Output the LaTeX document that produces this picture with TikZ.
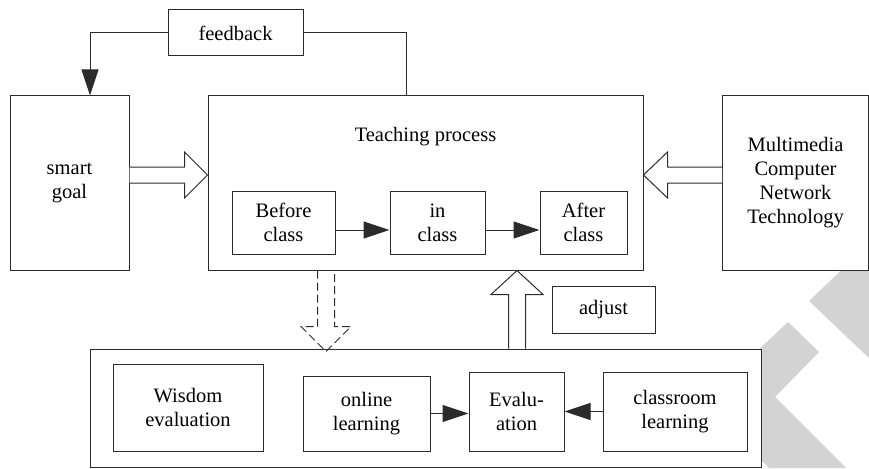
\documentclass[tikz,border=0pt]{standalone}
\usepackage{fontspec}
\setmainfont{Liberation Serif}
\usetikzlibrary{arrows.meta,calc}
\definecolor{ink}{HTML}{2B2B2B}
\definecolor{wmark}{HTML}{D3D3D3}
\begin{document}
\begin{tikzpicture}[x=1pt,y=-1pt,
  box/.style={draw=ink, line width=1pt, fill=white, inner sep=0pt, align=center,
              font=\fontsize{20.5}{24}\selectfont},
  txt/.style={inner sep=0pt, align=center, font=\fontsize{20.5}{24}\selectfont},
  flow/.style={draw=ink, line width=1pt, -{Triangle[length=26pt,width=17pt]}},
  link/.style={draw=ink, line width=1pt},
  hollow/.style={draw=ink, line width=1pt, fill=white, line join=miter},
  dhollow/.style={draw=ink, line width=1pt, dash pattern=on 8pt off 4pt, line join=miter},
]
\useasboundingbox (0,0) rectangle (869,468);
% watermark
\fill[wmark] (788,322) -- (819,352) -- (775,397) -- (846,468) -- (769,468) -- (703,402) -- cycle;
\fill[wmark] (852,260) -- (869,260) -- (869,358) -- (809,301) -- cycle;

% main boxes
\node[box, minimum width=135pt, minimum height=46pt] (fb) at (235.5,33) {feedback};
\node[box, minimum width=119pt, minimum height=174pt] (goal) at (69.5,183) {smart\\goal};
\node[box, minimum width=435pt, minimum height=174pt] (teach) at (425.5,183) {};
\node[txt] (title) at (425.5,137) {Teaching process};
\node[box, minimum width=146pt, minimum height=174pt] (mm) at (795.5,183) {Multimedia\\Computer\\Network\\Technology};

\node[box, minimum width=103pt, minimum height=63pt] (before) at (283.5,222.5) {Before\\class};
\node[box, minimum width=95pt, minimum height=63pt] (inclass) at (437.5,222.5) {in\\class};
\node[box, minimum width=87pt, minimum height=63pt] (after) at (583.5,222.5) {After\\class};

\node[box, minimum width=103pt, minimum height=47pt] (adjust) at (603.5,309.5) {adjust};

\node[box, minimum width=671pt, minimum height=118pt] (bottom) at (425.5,408) {};
\node[box, minimum width=150pt, minimum height=87pt] (wisdom) at (188,407.5) {Wisdom\\evaluation};
\node[box, minimum width=127pt, minimum height=75pt] (online) at (366.5,413.5) {online\\learning};
\node[box, minimum width=95pt, minimum height=79pt] (eval) at (516.5,411.5) {Evalu-\\ation};
\node[box, minimum width=144pt, minimum height=79pt] (class) at (675,411.5) {classroom\\learning};

% small flow arrows
\draw[flow] ([yshift=-7.5pt]before.east) -- ([yshift=-7.5pt]inclass.west);
\draw[flow] ([yshift=-7.5pt]inclass.east) -- ([yshift=-7.5pt]after.west);
\draw[flow] (online.east) -- (online.east -| eval.west);
\draw[flow] (class.west) -- (class.west -| eval.east);

% feedback loop
\draw[flow] (fb.west) -| ([xshift=20.5pt]goal.north);
\draw[link] (fb.east) -| ([xshift=-19.5pt]teach.north);

% hollow arrow: smart goal -> teaching
\coordinate (t1) at ($(goal.east)+(0,-8)$);
\coordinate (p1) at ($(teach.west)+(0,-8)$);
\draw[hollow] ($(t1)+(0,-8)$) -- ($(p1)+(-23,-8)$) -- ($(p1)+(-23,-23)$) -- (p1)
  -- ($(p1)+(-23,23)$) -- ($(p1)+(-23,8)$) -- ($(t1)+(0,8)$);

% hollow arrow: multimedia -> teaching
\coordinate (t2) at ($(mm.west)+(0,-8)$);
\coordinate (p2) at ($(teach.east)+(0,-8)$);
\draw[hollow] ($(t2)+(0,-8)$) -- ($(p2)+(24,-8)$) -- ($(p2)+(24,-23)$) -- (p2)
  -- ($(p2)+(24,23)$) -- ($(p2)+(24,8)$) -- ($(t2)+(0,8)$);

% hollow arrow: bottom -> teaching (up)
\coordinate (t3) at ($(bottom.north)+(91.5,0)$);
\coordinate (p3) at ($(teach.south)+(91.5,0)$);
\draw[hollow] ($(t3)+(-8.5,0)$) -- ($(p3)+(-8.5,24)$) -- ($(p3)+(-26,24)$) -- (p3)
  -- ($(p3)+(26,24)$) -- ($(p3)+(8.5,24)$) -- ($(t3)+(8.5,0)$);

% dashed hollow arrow: teaching -> bottom (down)
\coordinate (t4) at ($(teach.south)+(-99.5,0)$);
\coordinate (p4) at ($(bottom.north)+(-99.5,3)$);
\draw[dhollow] ($(t4)+(-8.5,0)$) -- ($(p4)+(-8.5,-25)$) -- ($(p4)+(-25,-25)$) -- (p4)
  -- ($(p4)+(25,-25)$) -- ($(p4)+(8.5,-25)$) -- ($(t4)+(8.5,0)$);
\end{tikzpicture}
\end{document}
